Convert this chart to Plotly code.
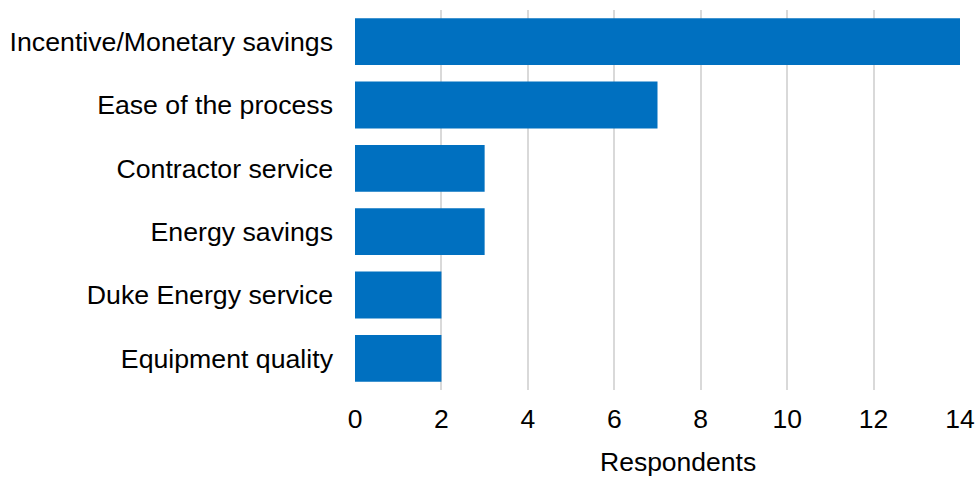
import plotly.graph_objects as go

categories = ["Incentive/Monetary savings", "Ease of the process", "Contractor service",
              "Energy savings", "Duke Energy service", "Equipment quality"]
respondents = [14, 7, 3, 3, 2, 2]
x_ticks = [0, 2, 4, 6, 8, 10, 12, 14]

fig = go.Figure(go.Bar(
    x=respondents, y=categories, orientation="h",
    marker=dict(color="#0070C0", line=dict(width=0)),
))

fig.update_layout(
    width=979, height=479,
    margin=dict(l=355, r=19, t=10, b=89),
    paper_bgcolor="white", plot_bgcolor="white",
    bargap=0.26,
    font=dict(family="Liberation Sans, Arial, sans-serif", size=26.5, color="#000000"),
    showlegend=False,
)
fig.update_xaxes(
    range=[0, 14], tickvals=x_ticks, showgrid=True, gridcolor="#D9D9D9", gridwidth=2,
    zeroline=False, showline=False, ticks="", ticklen=0, automargin=False,
    tickfont=dict(size=26.5), ticklabelstandoff=10,
)
fig.update_yaxes(
    autorange="reversed", showgrid=False, showline=False, ticks="", automargin=False,
    tickfont=dict(size=26.7), ticklabelstandoff=21,
)
# axis title sits a little right of the plot centre in the original
fig.add_annotation(text="Respondents", xref="paper", yref="paper", x=0.534, y=-0.19,
                   xanchor="center", yanchor="middle", showarrow=False,
                   font=dict(size=26.5))

fig.write_html("out.html", config={"displayModeBar": False},
               post_script="document.body.style.margin='0';")
